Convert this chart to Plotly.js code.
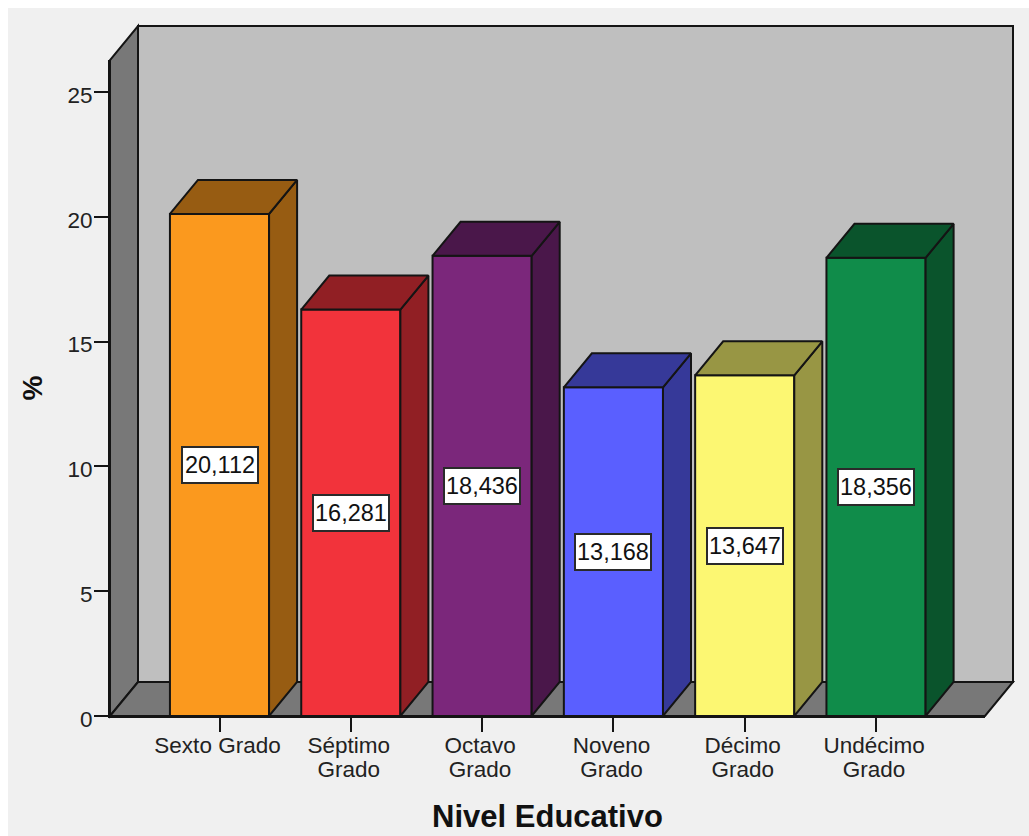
<!DOCTYPE html>
<html lang="es">
<head>
<meta charset="utf-8">
<title>Nivel Educativo</title>
<script src="https://cdn.plot.ly/plotly-3.0.1.min.js"></script>
<style>
  html, body { margin: 0; padding: 0; background: #ffffff; overflow: hidden; }
  #chart { position: absolute; left: 8px; top: 8px; width: 1021px; height: 828px; }
</style>
</head>
<body>
<div id="chart"></div>
<script>
// Distribución porcentual por nivel educativo
const categories = ["Sexto Grado", "Séptimo<br>Grado", "Octavo<br>Grado", "Noveno<br>Grado", "Décimo<br>Grado", "Undécimo<br>Grado"];
const percentages = [20.112, 16.281, 18.436, 13.168, 13.647, 18.356];
const frontColors = ["#fb991e", "#f2333b", "#7b277b", "#5a5fff", "#fcf772", "#108c4a"];
const shadeColors = ["#975c12", "#911f24", "#4a174a", "#363999", "#989644", "#0a542c"];
const yTicks = [0, 5, 10, 15, 20, 25];

// Extrusion of the bars, in axis units
const barWidth = 0.755;
const depthX = 0.2134;
const depthY = 1.362;

// Extrusion of the chart box, as a fraction of the plot area
const boxDepthX = 28 / 875;
const boxDepthY = 34 / 656;

const edge = "#141414";
const positions = categories.map((_, i) => i);

const traces = [{
  type: "bar",
  x: positions,
  y: percentages,
  width: barWidth,
  marker: { color: frontColors, line: { color: edge, width: 2 } },
  hoverinfo: "skip",
  showlegend: false
}];

percentages.forEach((v, i) => {
  const l = i - barWidth / 2, r = i + barWidth / 2;
  const face = (xs, ys) => ({
    type: "scatter",
    mode: "lines",
    x: xs,
    y: ys,
    fill: "toself",
    fillcolor: shadeColors[i],
    line: { color: edge, width: 2 },
    hoverinfo: "skip",
    showlegend: false
  });
  traces.push(face([r, r + depthX, r + depthX, r, r], [0, depthY, v + depthY, v, 0]));
  traces.push(face([l, l + depthX, r + depthX, r, l], [v, v + depthY, v + depthY, v, v]));
});

const boxFace = (path, fill) => ({
  type: "path",
  xref: "paper",
  yref: "paper",
  layer: "below",
  path: path,
  fillcolor: fill,
  line: { color: edge, width: 2 }
});

const dx = boxDepthX, dy = boxDepthY;
const shapes = [
  boxFace(`M ${dx} ${dy} L ${1 + dx} ${dy} L ${1 + dx} ${1 + dy} L ${dx} ${1 + dy} Z`, "#bfbfbf"),
  boxFace(`M 0 0 L ${dx} ${dy} L ${dx} ${1 + dy} L 0 1 Z`, "#787878"),
  boxFace(`M 0 0 L 1 0 L ${1 + dx} ${dy} L ${dx} ${dy} Z`, "#787878")
];

const family = "Liberation Sans, Arial, sans-serif";

const annotations = percentages.map((v, i) => ({
  x: i,
  y: v / 2,
  xref: "x",
  yref: "y",
  text: v.toFixed(3).replace(".", ","),
  showarrow: false,
  font: { family: family, size: 23.5, color: "#111111" },
  bgcolor: "#ffffff",
  bordercolor: "#2a2a2a",
  borderwidth: 2,
  borderpad: 0,
  width: 74,
  height: 34,
  align: "center",
  valign: "middle"
}));

const tickFont = { family: family, size: 22.5, color: "#222222" };

const layout = {
  width: 1021,
  height: 828,
  margin: { l: 102, r: 44, t: 52, b: 120, pad: 0 },
  paper_bgcolor: "#f0f0f0",
  plot_bgcolor: "rgba(0,0,0,0)",
  showlegend: false,
  xaxis: {
    range: [-0.834, 5.83],
    tickvals: positions,
    ticktext: categories,
    ticks: "outside",
    ticklen: 14,
    tickwidth: 2,
    tickcolor: edge,
    tickfont: tickFont,
    ticklabelstandoff: -6,
    ticklabelshift: -2,
    showgrid: false,
    zeroline: false,
    showline: true,
    linecolor: edge,
    linewidth: 2,
    title: { text: "Nivel Educativo", font: { family: family, size: 31, color: "#111111", weight: 700 }, standoff: 19 }
  },
  yaxis: {
    range: [0, 26.28],
    tickvals: yTicks,
    ticks: "outside",
    ticklen: 14,
    tickwidth: 2,
    tickcolor: edge,
    tickfont: tickFont,
    ticklabelstandoff: -3,
    ticklabelshift: 3,
    showgrid: false,
    zeroline: false,
    showline: true,
    linecolor: edge,
    linewidth: 2,
    title: { text: "%", font: { family: family, size: 28, color: "#111111", weight: 700 }, standoff: 17 }
  },
  shapes: shapes,
  annotations: annotations
};

Plotly.newPlot("chart", traces, layout, { displayModeBar: false, staticPlot: true }).then(gd => {
  // Tighter leading for the two-line grade names
  gd.querySelectorAll(".xtick text tspan.line").forEach(line => {
    if (line.getAttribute("dy") !== "0em") line.setAttribute("dy", "1.05em");
  });
});
</script>
</body>
</html>
